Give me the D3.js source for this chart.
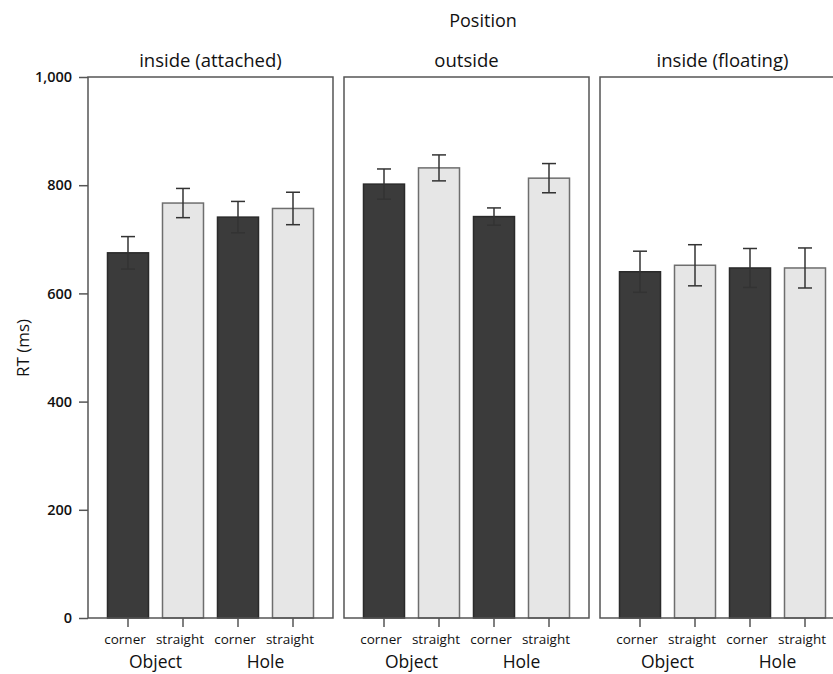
<!DOCTYPE html>
<html>
<head>
<meta charset="utf-8">
<script src="https://cdn.jsdelivr.net/npm/d3@7"></script>
<style>
  body { margin: 0; background: #fff; }
  text { font-family: "Open Sans", "Noto Sans", sans-serif; fill: #111; }
</style>
</head>
<body>
<div id="chart"></div>
<script>
// data
var panels = ["inside (attached)", "outside", "inside (floating)"];
var conditions = ["Object corner", "Object straight", "Hole corner", "Hole straight"];
var condLabels = ["corner", "straight", "corner", "straight"];
var groups = ["Object", "Hole"];
var yTicks = [0, 200, 400, 600, 800, 1000];

var rtAttached = [675, 767, 741, 757];
var rtOutside = [802, 832, 742, 813];
var rtFloating = [640, 652, 647, 647];
var errAttached = [30, 27, 29, 30];
var errOutside = [28, 24, 16, 27];
var errFloating = [38, 38, 36, 37];

var rtByPanel = [rtAttached, rtOutside, rtFloating];
var errByPanel = [errAttached, errOutside, errFloating];

var W = 833, H = 674;
var svg = d3.select("#chart").append("svg")
    .attr("width", W)
    .attr("height", H);

var yScale = d3.scaleLinear().domain([0, 1000]).range([618, 77]);

// panels run off the right side of the picture, like in the original crop
var panelScale = d3.scaleBand().domain(panels).range([88, 845]).paddingInner(0.043);
var pw = panelScale.bandwidth();
var xScale = d3.scaleBand().domain(conditions).range([0, pw])
    .paddingInner(0.2545).paddingOuter(0.3545);

// y axis
var yAxis = d3.axisLeft(yScale).tickValues(yTicks).tickSize(9).tickPadding(7)
    .tickFormat(d3.format(","));
var ga = svg.append("g")
    .attr("transform", "translate(88,0)")
    .call(yAxis);
ga.select(".domain").remove();
ga.selectAll("line").attr("stroke", "#555").attr("stroke-width", 1.5);
ga.selectAll("text")
    .style("font-size", "14.5px")
    .style("font-weight", "600")
    .attr("fill", "#111");

svg.append("text")
    .attr("transform", "translate(29,348) rotate(-90)")
    .style("text-anchor", "middle")
    .style("font-size", "17px")
    .text("RT (ms)");

svg.append("text")
    .attr("x", 483)
    .attr("y", 27)
    .style("text-anchor", "middle")
    .style("font-size", "18px")
    .text("Position");

panels.forEach(function(p, i) {
    var g = svg.append("g").attr("transform", "translate(" + panelScale(p) + ",0)");
    var rt = rtByPanel[i], err = errByPanel[i];

    g.append("text")
        .attr("x", pw / 2)
        .attr("y", 67)
        .style("text-anchor", "middle")
        .style("font-size", "18.5px")
        .text(p);

    // bars
    conditions.forEach(function(c, j) {
        var dark = j % 2 == 0;
        g.append("rect")
            .attr("x", xScale(c))
            .attr("y", yScale(rt[j]))
            .attr("width", xScale.bandwidth())
            .attr("height", yScale(0) - yScale(rt[j]))
            .attr("fill", dark ? "#3b3b3b" : "#e6e6e6")
            .attr("stroke", dark ? "#2a2a2a" : "#6e6e6e")
            .attr("stroke-width", 1.5);

        var cx = xScale(c) + xScale.bandwidth() / 2;
        var lo = yScale(rt[j] - err[j]), hi = yScale(rt[j] + err[j]);
        g.append("line")
            .attr("x1", cx).attr("x2", cx).attr("y1", lo).attr("y2", hi)
            .attr("stroke", "#333").attr("stroke-width", 1.5);
        [lo, hi].forEach(function(yy) {
            g.append("line")
                .attr("x1", cx - 7).attr("x2", cx + 7).attr("y1", yy).attr("y2", yy)
                .attr("stroke", "#333").attr("stroke-width", 1.5);
        });

        // tick below
        g.append("line")
            .attr("x1", cx).attr("x2", cx).attr("y1", yScale(0)).attr("y2", yScale(0) + 9)
            .attr("stroke", "#555").attr("stroke-width", 1.5);

        g.append("text")
            .attr("x", cx - 3)
            .attr("y", 644)
            .style("text-anchor", "middle")
            .style("font-size", "13.5px")
            .text(condLabels[j]);
    });

    groups.forEach(function(gr, k) {
        var a = xScale(conditions[k * 2]), b = xScale(conditions[k * 2 + 1]) + xScale.bandwidth();
        g.append("text")
            .attr("x", (a + b) / 2)
            .attr("y", 668)
            .style("text-anchor", "middle")
            .style("font-size", "17.5px")
            .text(gr);
    });

    // frame
    g.append("rect")
        .attr("x", 0)
        .attr("y", yScale(1000))
        .attr("width", pw)
        .attr("height", yScale(0) - yScale(1000))
        .attr("fill", "none")
        .attr("stroke", "#555")
        .attr("stroke-width", 1.5);
});
</script>
</body>
</html>
